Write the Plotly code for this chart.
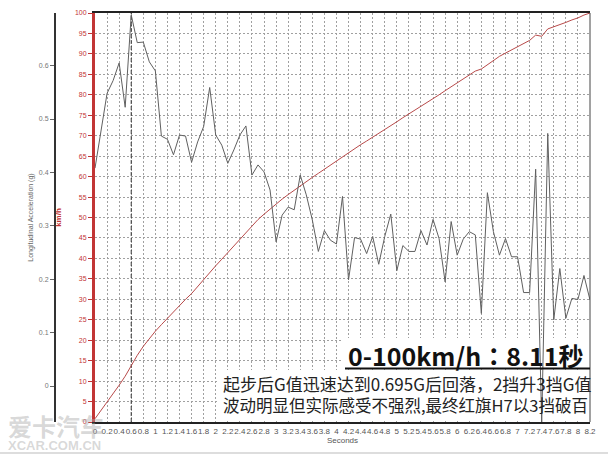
import plotly.graph_objects as go

# ---------------- data ----------------
time_s = [0.0, 0.1, 0.2, 0.3, 0.4, 0.5, 0.6, 0.7, 0.8, 0.9,
          1.0, 1.1, 1.2, 1.3, 1.4, 1.5, 1.6, 1.7, 1.8, 1.9,
          2.0, 2.1, 2.2, 2.3, 2.4, 2.5, 2.6, 2.7, 2.8, 2.9,
          3.0, 3.1, 3.2, 3.3, 3.4, 3.5, 3.6, 3.7, 3.8, 3.9,
          4.0, 4.1, 4.2, 4.3, 4.4, 4.5, 4.6, 4.7, 4.8, 4.9,
          5.0, 5.1, 5.2, 5.3, 5.4, 5.5, 5.6, 5.7, 5.8, 5.9,
          6.0, 6.1, 6.2, 6.3, 6.4, 6.5, 6.6, 6.7, 6.8, 6.9,
          7.0, 7.1, 7.2, 7.3, 7.4, 7.5, 7.6, 7.7, 7.8, 7.9,
          8.0, 8.1, 8.2]

accel_g = [0.408, 0.475, 0.548, 0.572, 0.605, 0.522, 0.695, 0.643, 0.644, 0.607,
           0.590, 0.468, 0.462, 0.433, 0.470, 0.468, 0.419, 0.457, 0.486, 0.559,
           0.470, 0.451, 0.417, 0.442, 0.470, 0.487, 0.395, 0.414, 0.401, 0.367,
           0.270, 0.320, 0.335, 0.330, 0.395, 0.358, 0.311, 0.252, 0.291, 0.273,
           0.266, 0.355, 0.199, 0.278, 0.275, 0.248, 0.280, 0.228, 0.280, 0.322,
           0.216, 0.263, 0.252, 0.252, 0.291, 0.264, 0.312, 0.276, 0.195, 0.308,
           0.245, 0.275, 0.289, 0.283, 0.136, 0.362, 0.289, 0.245, 0.276, 0.242,
           0.242, 0.175, 0.175, 0.406, -0.070, 0.473, 0.124, 0.220, 0.127, 0.164,
           0.162, 0.207, 0.161]

speed_kmh = [0.8, 2.8, 4.9, 7.0, 9.0, 11.2, 13.8, 16.3, 18.5, 20.4,
             22.2, 23.8, 25.4, 26.9, 28.5, 30.0, 31.4, 33.1, 35.0, 36.6,
             38.2, 39.8, 41.4, 43.0, 44.6, 46.3, 48.0, 49.5, 50.8, 52.1,
             53.3, 54.5, 55.6, 56.7, 57.8, 58.8, 59.8, 60.8, 61.8, 62.9,
             64.0, 65.0, 66.0, 66.9, 67.8, 68.7, 69.6, 70.5, 71.5, 72.5,
             73.4, 74.4, 75.3, 76.3, 77.3, 78.1, 79.0, 80.0, 81.0, 82.0,
             83.0, 84.0, 85.0, 85.8, 86.3, 87.3, 88.5, 89.4, 90.2, 91.0,
             91.8, 92.5, 93.3, 94.6, 94.3, 96.1, 96.6, 97.1, 97.7, 98.3,
             98.8, 99.5, 100.0]

x_tick_vals = [0, 0.2, 0.4, 0.6, 0.8, 1, 1.2, 1.4, 1.6, 1.8, 2, 2.2, 2.4, 2.6, 2.8,
               3, 3.2, 3.4, 3.6, 3.8, 4, 4.2, 4.4, 4.6, 4.8, 5, 5.2, 5.4, 5.6, 5.8,
               6, 6.2, 6.4, 6.6, 6.8, 7, 7.2, 7.4, 7.6, 7.8, 8, 8.2]
x_tick_text = ["0", "0.2", "0.4", "0.6", "0.8", "1", "1.2", "1.4", "1.6", "1.8",
               "2", "2.2", "2.4", "2.6", "2.8", "3", "3.2", "3.4", "3.6", "3.8",
               "4", "4.2", "4.4", "4.6", "4.8", "5", "5.2", "5.4", "5.6", "5.8",
               "6", "6.2", "6.4", "6.6", "6.8", "7", "7.2", "7.4", "7.6", "7.8",
               "8", "8.2"]
speed_ticks = [0, 5, 10, 15, 20, 25, 30, 35, 40, 45, 50, 55, 60, 65, 70, 75, 80, 85, 90, 95, 100]
accel_ticks = [0, 0.1, 0.2, 0.3, 0.4, 0.5, 0.6]
accel_tick_text = ["0", "0.1", "0.2", "0.3", "0.4", "0.5", "0.6"]

peak_time = 0.6
title_text = "0-100km/h：8.11秒"
note_line1 = "起步后G值迅速达到0.695G后回落，2挡升3挡G值"
note_line2 = "波动明显但实际感受不强烈,最终红旗H7以3挡破百"

# ---------------- figure ----------------
W, H = 608, 455
ML, MR, MT, MB = 45, 18, 13, 33
PW = W - ML - MR
PH = H - MT - MB


def px_x(px):
    return (px - ML) / PW


def px_y(py):
    return (H - MB - py) / PH


RED = "#c23535"
GRID = "#a0a0a0"
LAB = "Liberation Sans, Arial, sans-serif"
CJK = "Noto Sans CJK SC, sans-serif"
CJK_T = "Noto Sans CJK TC, Noto Sans CJK SC, sans-serif"

fig = go.Figure()

fig.add_trace(go.Scatter(
    x=time_s, y=speed_kmh, mode="lines", yaxis="y",
    line=dict(color="#b84a4a", width=1), showlegend=False, hoverinfo="skip"))

fig.add_trace(go.Scatter(
    x=time_s, y=accel_g, mode="lines", yaxis="y2",
    line=dict(color="#606060", width=1), showlegend=False, hoverinfo="skip"))

fig.update_layout(
    width=W, height=H,
    margin=dict(l=ML, r=MR, t=MT, b=MB, pad=0),
    paper_bgcolor="white", plot_bgcolor="white",
    xaxis=dict(
        domain=[px_x(95), 1], range=[0, 8.2],
        tickmode="array", tickvals=x_tick_vals, ticktext=x_tick_text,
        tickangle=0, tickfont=dict(family=LAB, size=8, color="#555555"),
        showgrid=True, gridcolor=GRID, griddash="2px,2px", gridwidth=1,
        showline=True, linecolor="#222222", linewidth=2, mirror=True,
        zeroline=False, ticks="", automargin=False,
        title=dict(text="Seconds", font=dict(family=LAB, size=8, color="#555555"), standoff=2),
    ),
    yaxis=dict(
        range=[0, 100], tickmode="array", tickvals=speed_ticks,
        tickfont=dict(family=LAB, size=7, color=RED),
        showgrid=True, gridcolor=GRID, griddash="2px,2px", gridwidth=1,
        showline=True, linecolor=RED, linewidth=3,
        ticks="outside", ticklen=4, tickcolor=RED, tickwidth=1,
        zeroline=False, automargin=False,
        title=dict(text="<b>km/h</b>", font=dict(family=LAB, size=8, color=RED), standoff=13),
    ),
    yaxis2=dict(
        overlaying="y", anchor="free", position=px_x(55), side="left",
        range=[-0.0674, 0.6985], tickmode="array", tickvals=accel_ticks, ticktext=accel_tick_text,
        tickfont=dict(family=LAB, size=7, color="#777777"),
        showgrid=False, zeroline=False,
        showline=True, linecolor="#333333", linewidth=2,
        ticks="outside", ticklen=4, tickcolor="#666666", tickwidth=1,
        automargin=False,
        title=dict(text="Longitudinal Acceleration (g)",
                   font=dict(family=LAB, size=7, color="#666666"), standoff=3),
    ),
)

shapes = []
# peak marker
shapes.append(dict(type="line", xref="x", yref="y", x0=peak_time, x1=peak_time, y0=0, y1=100,
                   line=dict(color="#333333", width=1, dash="4px,2px"), layer="between"))
# right frame
shapes.append(dict(type="line", xref="paper", yref="paper", x0=1, x1=1, y0=0, y1=1,
                   line=dict(color="#444444", width=1), layer="above"))
# white text boxes (hide grid, under traces)
t_of = lambda px: (px - 95) / ((590 - 95) / 8.2)
v_of = lambda py: (422 - py) / (409 / 100)
shapes.append(dict(type="rect", xref="x", yref="y", x0=t_of(343), x1=8.2, y0=v_of(369), y1=v_of(338),
                   fillcolor="white", line=dict(width=0), layer="between"))
shapes.append(dict(type="rect", xref="x", yref="y", x0=t_of(218), x1=8.2, y0=v_of(420), y1=v_of(370),
                   fillcolor="white", line=dict(width=0), layer="between"))
# underline of title
shapes.append(dict(type="line", xref="paper", yref="paper", x0=px_x(345), x1=1.0,
                   y0=px_y(368.5), y1=px_y(368.5), line=dict(color="#111111", width=2), layer="above"))
# bottom border of image
shapes.append(dict(type="line", xref="paper", yref="paper", x0=px_x(0), x1=px_x(608),
                   y0=px_y(453), y1=px_y(453), line=dict(color="#bbbbbb", width=1), layer="above"))

annotations = [
    dict(text="<b>" + title_text + "</b>", xref="paper", yref="paper",
         x=px_x(586), y=px_y(355), xanchor="right", yanchor="middle", showarrow=False,
         font=dict(family=CJK_T, size=25, color="#111111")),
    dict(text=note_line1, xref="paper", yref="paper",
         x=px_x(221), y=px_y(383), xanchor="left", yanchor="middle", showarrow=False,
         font=dict(family=CJK, size=17, color="#222222")),
    dict(text=note_line2, xref="paper", yref="paper",
         x=px_x(221), y=px_y(405), xanchor="left", yanchor="middle", showarrow=False,
         font=dict(family=CJK, size=16.5, color="#222222")),
    # watermark
    dict(text="<b>爱卡汽车</b>", xref="paper", yref="paper",
         x=px_x(6), y=px_y(425), xanchor="left", yanchor="middle", showarrow=False,
         font=dict(family=CJK, size=24, color="rgba(170,170,170,0.45)")),
    dict(text="<b>XCAR.COM.CN</b>", xref="paper", yref="paper",
         x=px_x(6), y=px_y(445), xanchor="left", yanchor="middle", showarrow=False,
         font=dict(family=LAB, size=13, color="rgba(170,170,170,0.45)")),
]

fig.update_layout(shapes=shapes, annotations=annotations)

fig.write_html("out.html", config={"displayModeBar": False},
               post_script="document.body.style.margin='0';document.body.style.overflow='hidden';")
